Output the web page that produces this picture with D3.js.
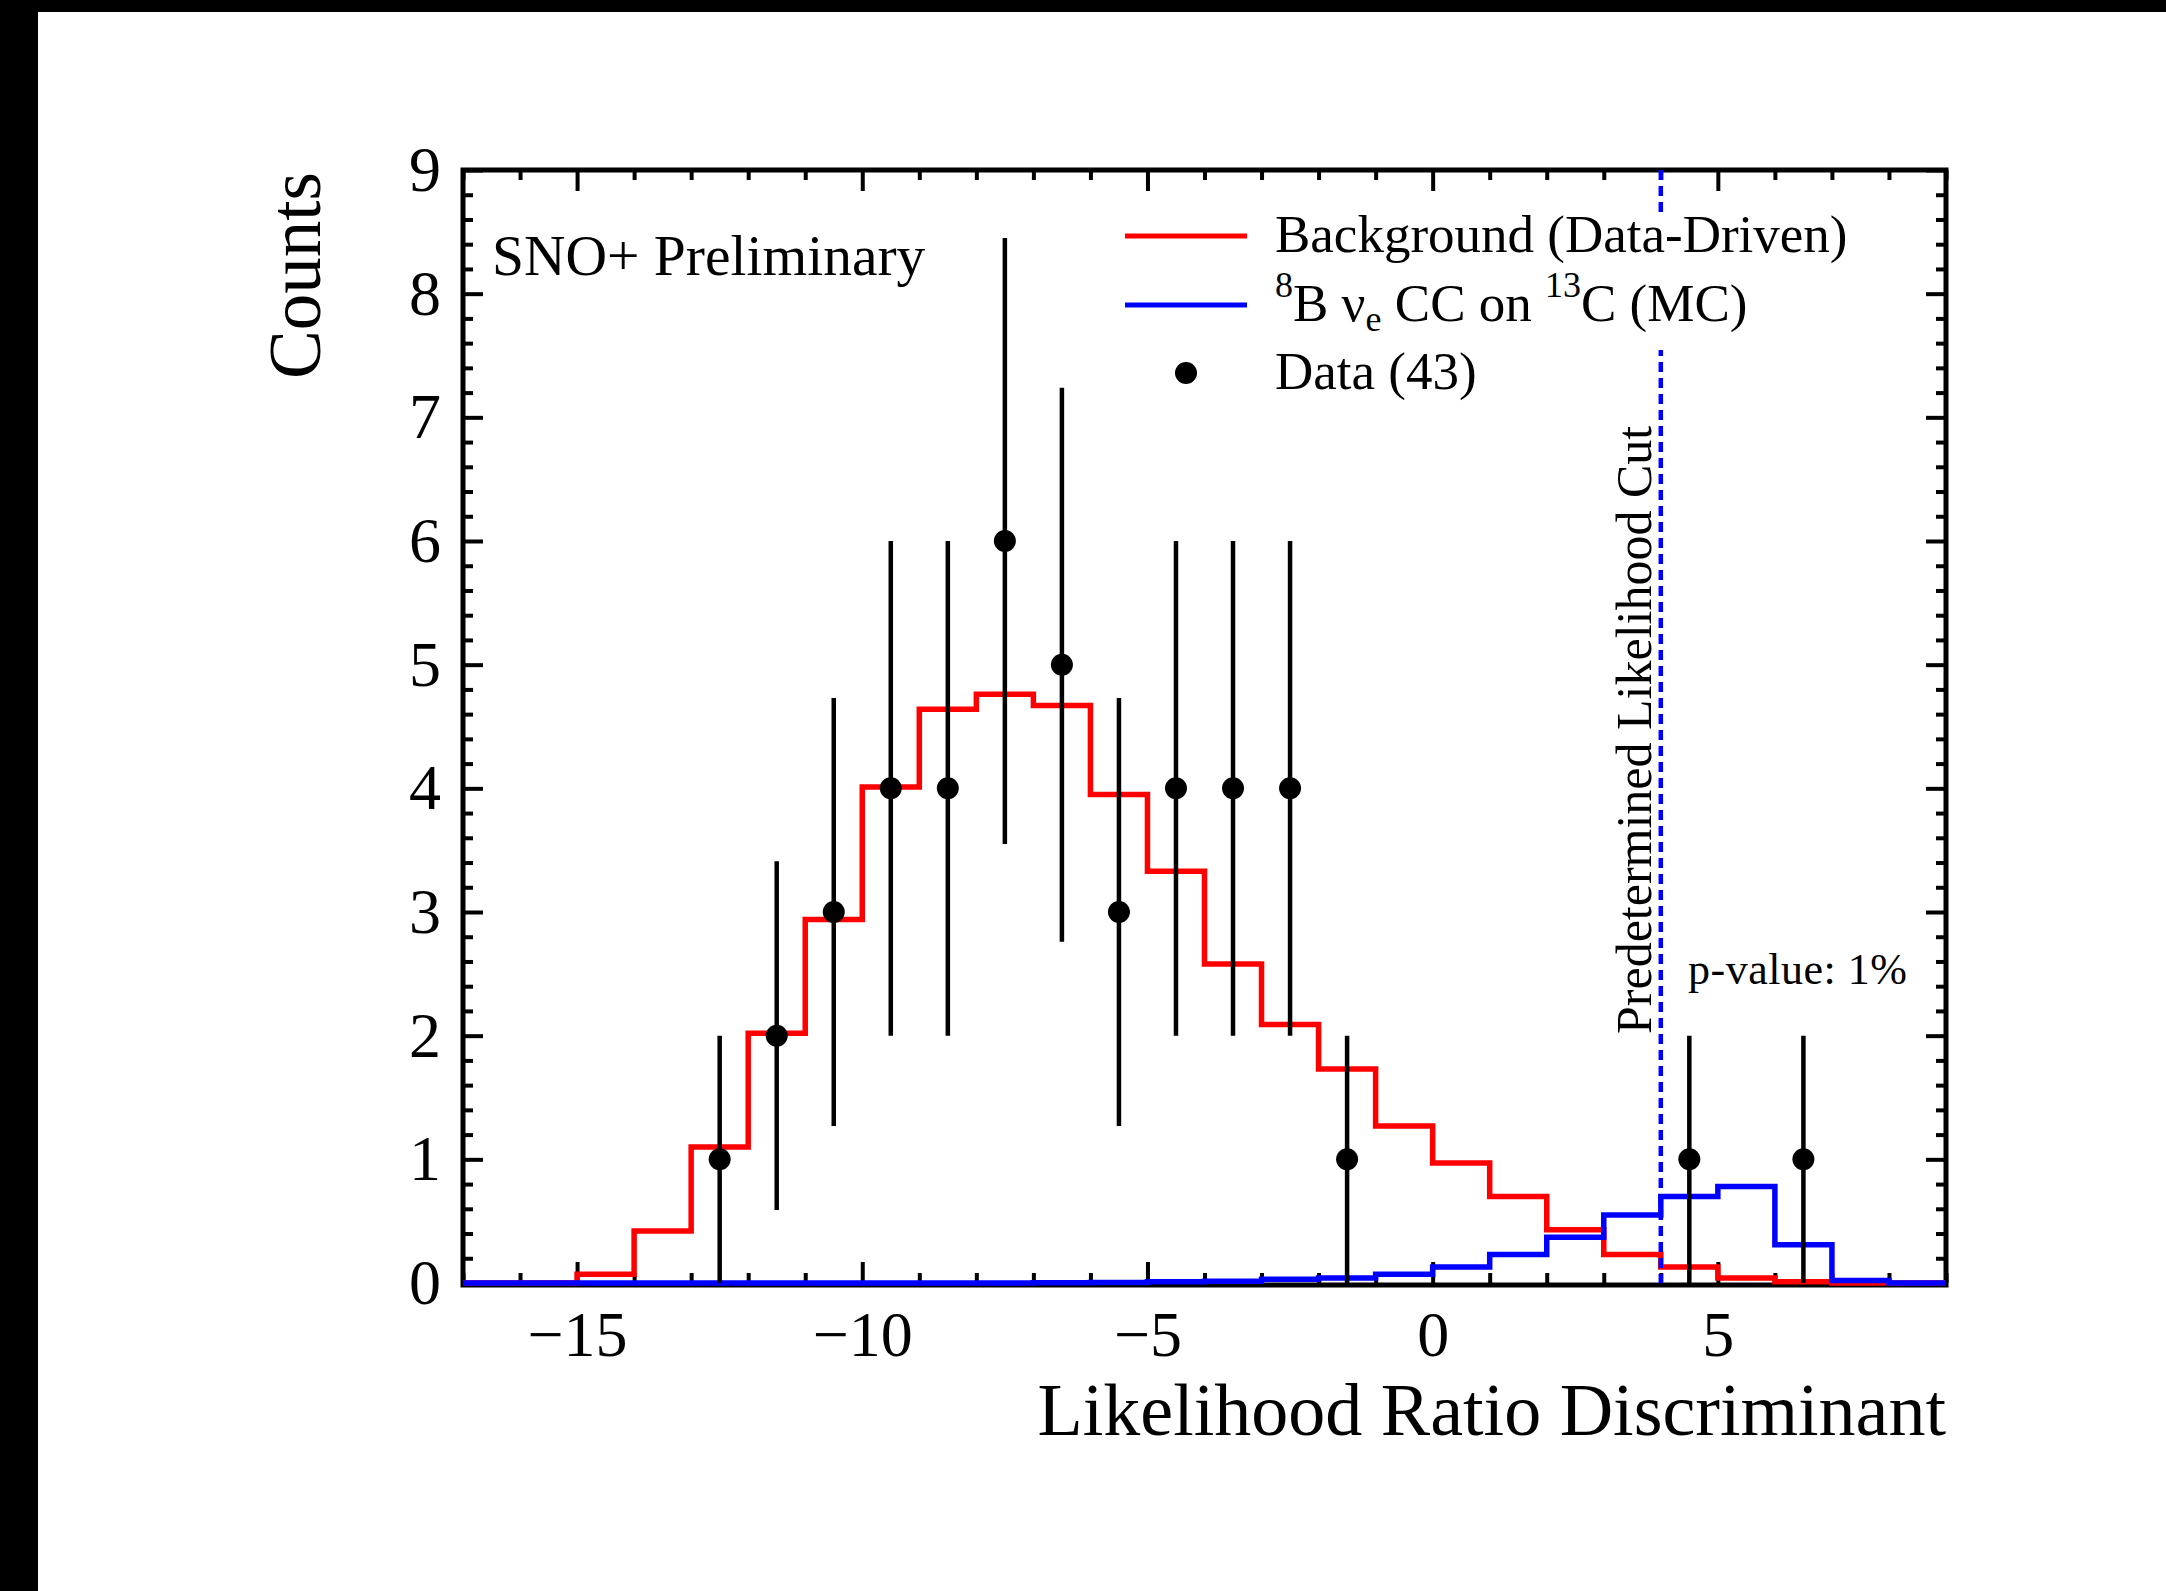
<!DOCTYPE html>
<html>
<head>
<meta charset="utf-8">
<script src="https://cdn.jsdelivr.net/npm/d3@7"></script>
<style>
body { margin: 0; background: #000; }
svg { display: block; }
text { font-family: "Liberation Serif", "Times New Roman", serif; fill: #000; }
</style>
</head>
<body>
<div id="chart"></div>
<script>
// histogram bins: unit width from -17 to 9
const binEdges = [-17, -16, -15, -14, -13, -12, -11, -10, -9, -8, -7, -6, -5, -4, -3, -2, -1, 0, 1, 2, 3, 4, 5, 6, 7, 8, 9];

// Background (Data-Driven), one value per bin
const background = [0, 0, 0.07, 0.42, 1.10, 2.02, 2.94, 4.01, 4.64, 4.76, 4.67, 3.95, 3.33, 2.58, 2.09, 1.73, 1.27, 0.97, 0.70, 0.43, 0.23, 0.13, 0.04, 0.01, 0, 0];

// 8B nu_e CC on 13C (MC), one value per bin
const signal = [0, 0, 0, 0, 0, 0, 0, 0, 0, 0, 0.003, 0.005, 0.01, 0.015, 0.03, 0.04, 0.07, 0.13, 0.23, 0.37, 0.55, 0.70, 0.78, 0.31, 0.02, 0];

// data points (43 events)
const dataX = [-12.5, -11.5, -10.5, -9.5, -8.5, -7.5, -6.5, -5.5, -4.5, -3.5, -2.5, -1.5, 4.5, 6.5];
const dataCounts = [1, 2, 3, 4, 4, 6, 5, 3, 4, 4, 4, 1, 1, 1];
const dataErrors = [1, 1.41, 1.73, 2, 2, 2.45, 2.24, 1.73, 2, 2, 2, 1, 1, 1];

const xTicks = [-15, -10, -5, 0, 5];
const yTicks = [0, 1, 2, 3, 4, 5, 6, 7, 8, 9];
const cutValue = 4;

const W = 2166, H = 1591;
const margin = { top: 170, left: 463, right: 220, bottom: 308 };
const width = W - margin.left - margin.right;
const height = H - margin.top - margin.bottom;

const svg = d3.select("#chart").append("svg")
    .attr("width", W)
    .attr("height", H);

// white page with black border at top / left
svg.append("rect").attr("x", 38).attr("y", 12)
    .attr("width", W - 38).attr("height", H - 12).attr("fill", "#fff");

const g = svg.append("g")
    .attr("transform", `translate(${margin.left},${margin.top})`);

const x = d3.scaleLinear().domain([-17, 9]).range([0, width]);
const y = d3.scaleLinear().domain([0, 9]).range([height, 0]);

const fmt = d => d < 0 ? "\u2212" + Math.abs(d) : String(d);

const xMinor = d3.range(-17, 10, 1).filter(d => !xTicks.includes(d));
const yMinor = d3.range(0, 45).map(i => i / 5).filter(d => d % 1 !== 0);

function styleAxis(sel) {
    sel.select(".domain").remove();
    sel.selectAll("line").attr("stroke", "#000").attr("stroke-width", 4);
    sel.selectAll("text")
        .style("font-family", "Liberation Serif")
        .style("font-size", "64px")
        .attr("fill", "#000");
}

// bottom
g.append("g").attr("transform", `translate(0,${height})`)
    .call(d3.axisBottom(x).tickValues(xTicks).tickFormat(fmt).tickSize(-21).tickPadding(28))
    .call(styleAxis);
g.append("g").attr("transform", `translate(0,${height})`)
    .call(d3.axisBottom(x).tickValues(xMinor).tickFormat("").tickSize(-10))
    .call(styleAxis);
// top
g.append("g")
    .call(d3.axisTop(x).tickValues(xTicks).tickFormat("").tickSize(-21))
    .call(styleAxis);
g.append("g")
    .call(d3.axisTop(x).tickValues(xMinor).tickFormat("").tickSize(-10))
    .call(styleAxis);
// left
g.append("g")
    .call(d3.axisLeft(y).tickValues(yTicks).tickFormat(d3.format("d")).tickSize(-20).tickPadding(22))
    .call(styleAxis);
g.append("g")
    .call(d3.axisLeft(y).tickValues(yMinor).tickFormat("").tickSize(-10))
    .call(styleAxis);
// right
g.append("g").attr("transform", `translate(${width},0)`)
    .call(d3.axisRight(y).tickValues(yTicks).tickFormat("").tickSize(-20))
    .call(styleAxis);
g.append("g").attr("transform", `translate(${width},0)`)
    .call(d3.axisRight(y).tickValues(yMinor).tickFormat("").tickSize(-10))
    .call(styleAxis);

// frame
g.append("rect")
    .attr("x", 0).attr("y", 0)
    .attr("width", width).attr("height", height + 2)
    .attr("fill", "none").attr("stroke", "#000").attr("stroke-width", 5);

// step histograms
function stepPoints(values) {
    const pts = [[binEdges[0], 0]];
    values.forEach((v, i) => pts.push([binEdges[i], v]));
    pts.push([binEdges[binEdges.length - 1], values[values.length - 1]]);
    return pts;
}
const stepLine = d3.line()
    .x(d => x(d[0]))
    .y(d => y(d[1]))
    .curve(d3.curveStepAfter);

g.append("path")
    .attr("d", stepLine(stepPoints(background)))
    .attr("fill", "none").attr("stroke", "#ff0000").attr("stroke-width", 5.5);
g.append("path")
    .attr("d", stepLine(stepPoints(signal)))
    .attr("fill", "none").attr("stroke", "#0000ff").attr("stroke-width", 5.5);

// cut line
g.append("line")
    .attr("x1", x(cutValue)).attr("x2", x(cutValue))
    .attr("y1", 0).attr("y2", height)
    .attr("stroke", "#0000ff").attr("stroke-width", 4.5)
    .attr("stroke-dasharray", "10,6");

// data with error bars
const pts = dataX.map((d, i) => ({ x: d, c: dataCounts[i], e: dataErrors[i] }));
g.selectAll(".err").data(pts).enter().append("line")
    .attr("class", "err")
    .attr("x1", d => x(d.x)).attr("x2", d => x(d.x))
    .attr("y1", d => y(Math.max(0, d.c - d.e)))
    .attr("y2", d => y(d.c + d.e))
    .attr("stroke", "#000").attr("stroke-width", 4.5);
g.selectAll(".dot").data(pts).enter().append("circle")
    .attr("class", "dot")
    .attr("cx", d => x(d.x)).attr("cy", d => y(d.c))
    .attr("r", 11).attr("fill", "#000");

// axis titles
svg.append("text")
    .attr("x", margin.left + width).attr("y", 1435)
    .attr("text-anchor", "end")
    .style("font-size", "74px")
    .text("Likelihood Ratio Discriminant");
svg.append("text")
    .attr("transform", "translate(320,172) rotate(-90)")
    .attr("text-anchor", "end")
    .style("font-size", "73px")
    .text("Counts");

// annotations
svg.append("text")
    .attr("x", 492).attr("y", 275)
    .style("font-size", "57.5px")
    .text("SNO+ Preliminary");
svg.append("text")
    .attr("transform", "translate(1651,1034) rotate(-90)")
    .style("font-size", "50px")
    .text("Predetermined Likelihood Cut");
svg.append("text")
    .attr("x", 1688).attr("y", 984)
    .style("font-size", "44px")
    .style("letter-spacing", "0.5px")
    .text("p-value: 1%");

// legend (white box hides the cut line behind it)
svg.append("rect")
    .attr("x", 1110).attr("y", 214)
    .attr("width", 790).attr("height", 136)
    .attr("fill", "#fff");

const legX1 = 1125, legX2 = 1247, legText = 1275;
const legY = [236, 305, 373];
svg.append("line").attr("x1", legX1).attr("x2", legX2).attr("y1", legY[0]).attr("y2", legY[0])
    .attr("stroke", "#ff0000").attr("stroke-width", 5);
svg.append("line").attr("x1", legX1).attr("x2", legX2).attr("y1", legY[1]).attr("y2", legY[1])
    .attr("stroke", "#0000ff").attr("stroke-width", 5);
svg.append("circle").attr("cx", (legX1 + legX2) / 2).attr("cy", legY[2]).attr("r", 11).attr("fill", "#000");

svg.append("text").attr("x", legText).attr("y", legY[0] + 16)
    .style("font-size", "53px").text("Background (Data-Driven)");

const t2 = svg.append("text").attr("x", legText).attr("y", legY[1] + 16)
    .style("font-size", "53px").style("white-space", "pre");
t2.append("tspan").attr("dy", -24).style("font-size", "36px").text("8");
t2.append("tspan").attr("dy", 24).text("B \u03bd");
t2.append("tspan").attr("dy", 10).style("font-size", "36px").text("e");
t2.append("tspan").attr("dy", -10).text(" CC on ");
t2.append("tspan").attr("dy", -24).style("font-size", "36px").text("13");
t2.append("tspan").attr("dy", 24).text("C (MC)");

svg.append("text").attr("x", legText).attr("y", legY[2] + 16)
    .style("font-size", "53px").text("Data (43)");
</script>
</body>
</html>
